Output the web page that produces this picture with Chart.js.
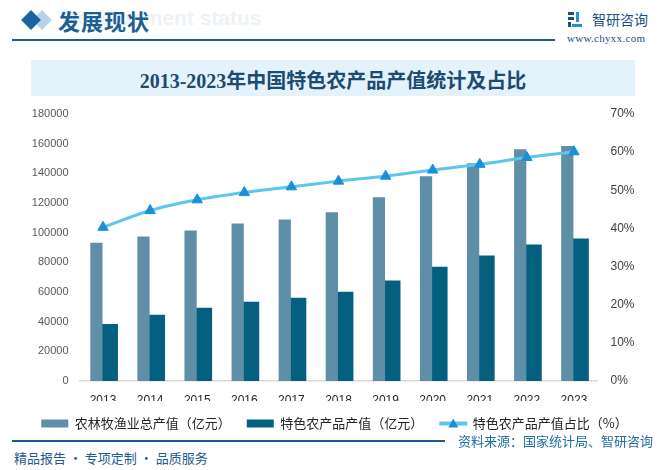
<!DOCTYPE html>
<html>
<head>
<meta charset="utf-8">
<script src="https://cdn.jsdelivr.net/npm/chart.js@4.4.1/dist/chart.umd.min.js"></script>
<style>
  html, body { margin: 0; padding: 0; background: #fff; }
  body { width: 669px; height: 470px; position: relative; overflow: hidden; font-family: "Noto Sans CJK SC", "Noto Sans", sans-serif; }
  .abs { position: absolute; }
  #ghost { left: 62px; top: 6px; font: bold 21px "Liberation Sans", sans-serif; color: #edf2f6; white-space: nowrap; }
  #diamond2 { left: 35px; top: 13px; width: 14px; height: 14px; background: #b9d2e6; transform: rotate(45deg); }
  #diamond1 { left: 24px; top: 13px; width: 14px; height: 14px; background: #1c64a0; transform: rotate(45deg); }
  #head { left: 58px; top: 4px; font-weight: bold; font-size: 22px; color: #1c5f96; letter-spacing: 1px; }
  #headline { left: 12px; top: 39px; width: 543px; height: 2px; background: #1d5c8c; }
  #logoTxt { left: 592px; top: 9px; font-size: 14px; color: #1d4f85; }
  #logoUrl { left: 567px; top: 32px; font: 11px "Liberation Serif", serif; color: #1d4f85; letter-spacing: 0.3px; }
  #titlebox { left: 31px; top: 60px; width: 604px; height: 36px; background: #e4f2fb; }
  #title { left: 31px; top: 63px; width: 604px; height: 36px; line-height: 36px; text-align: center; font-weight: bold; font-size: 20px; color: #1c4a72; font-family: "Liberation Serif", "Noto Sans CJK SC", serif; }
  #chartBox { left: 0; top: 100px; width: 669px; height: 340px; }
  #footline { left: 12px; top: 440px; width: 433px; height: 1.5px; background: #1d5c8c; }
  #source { left: 458px; top: 431px; font-size: 13px; color: #1f6fa0; }
  #slogan { left: 14px; top: 448px; font-size: 13px; color: #1e5b8e; }
</style>
</head>
<body>
<div id="ghost" class="abs">Development status</div>
<div id="diamond2" class="abs"></div>
<div id="diamond1" class="abs"></div>
<div id="head" class="abs">发展现状</div>
<div id="headline" class="abs"></div>
<svg class="abs" style="left:568px;top:12px" width="14" height="15" viewBox="0 0 14 15">
  <rect x="0" y="0" width="6" height="3" fill="#1d4f85"/>
  <rect x="0" y="5" width="6" height="3" fill="#1d4f85"/>
  <rect x="0" y="10" width="3" height="5" fill="#1d4f85"/>
  <rect x="8" y="0" width="3" height="10" fill="#2a8fd0"/>
  <rect x="4" y="12" width="10" height="3" fill="#2a8fd0"/>
</svg>
<div id="logoTxt" class="abs">智研咨询</div>
<div id="logoUrl" class="abs">www.chyxx.com</div>
<div id="titlebox" class="abs"></div>
<div id="title" class="abs">2013-2023年中国特色农产品产值统计及占比</div>
<div id="chartBox" class="abs"><canvas id="myChart" width="669" height="340"></canvas></div>
<div id="footline" class="abs"></div>
<div id="source" class="abs">资料来源：国家统计局、智研咨询</div>
<div id="slogan" class="abs">精品报告 · 专项定制 · 品质服务</div>

<script>
// datos
const years = ['2013', '2014', '2015', '2016', '2017', '2018', '2019', '2020', '2021', '2022', '2023'];
const totalOutput = [93200, 97400, 101500, 106200, 108900, 113700, 123800, 138000, 146800, 156300, 158400];
const featureOutput = [38400, 44700, 49400, 53500, 56200, 60200, 67700, 77100, 84600, 92000, 96100];
const featureShare = [40.3, 44.7, 47.5, 49.4, 50.9, 52.4, 53.7, 55.3, 56.8, 58.6, 60.1];
const leftTicks = [0, 20000, 40000, 60000, 80000, 100000, 120000, 140000, 160000, 180000];
const rightTicks = [0, 10, 20, 30, 40, 50, 60, 70];

const lineColor = '#5cc6ef';
const markColor = '#1a90d6';

// triangulo y linea en la leyenda
const legendMarker = {
  id: 'legendMarker',
  afterDraw(chart) {
    const box = chart.legend.legendHitBoxes[2];
    if (!box) return;
    const ctx = chart.ctx;
    const cy = box.top + box.height / 2;
    ctx.save();
    ctx.strokeStyle = lineColor;
    ctx.lineWidth = 4;
    ctx.beginPath();
    ctx.moveTo(box.left, cy);
    ctx.lineTo(box.left + 28, cy);
    ctx.stroke();
    ctx.fillStyle = markColor;
    ctx.beginPath();
    ctx.moveTo(box.left + 14, cy - 5);
    ctx.lineTo(box.left + 19, cy + 4);
    ctx.lineTo(box.left + 9, cy + 4);
    ctx.closePath();
    ctx.fill();
    ctx.restore();
  }
};

// ancho fijo de los ejes y poco margen arriba
function fitY(w) {
  return function(scale) {
    scale.width = w;
    scale.paddingTop = 7;
    scale.paddingBottom = 7;
  };
}

var ctx = document.getElementById('myChart').getContext('2d');
var myChart = new Chart(ctx, {
  type: 'bar',
  data: {
    labels: years,
    datasets: [{
      label: '农林牧渔业总产值（亿元）',
      data: totalOutput,
      backgroundColor: '#5f8fa6',
      barPercentage: 0.92,
      categoryPercentage: 0.565,
      yAxisID: 'y'
    }, {
      label: '特色农产品产值（亿元）',
      data: featureOutput,
      backgroundColor: '#05607f',
      barPercentage: 1.24,
      categoryPercentage: 0.565,
      yAxisID: 'y'
    }, {
      type: 'line',
      label: '特色农产品产值占比（%）',
      data: featureShare,
      borderColor: lineColor,
      borderWidth: 3,
      tension: 0.3,
      pointStyle: 'triangle',
      pointRadius: 6,
      pointBackgroundColor: markColor,
      pointBorderColor: markColor,
      pointBorderWidth: 1,
      yAxisID: 'y1',
      order: -1
    }]
  },
  options: {
    responsive: false,
    animation: false,
    layout: { padding: { top: 14, left: 0, right: 0, bottom: 0 } },
    plugins: {
      tooltip: { enabled: false },
      legend: {
        display: true,
        position: 'bottom',
        labels: {
          boxWidth: 27,
          boxHeight: 8,
          padding: 16,
          color: '#262626',
          font: { family: '"Noto Sans CJK SC", sans-serif', size: 13 },
          generateLabels(chart) {
            return chart.data.datasets.map((ds, i) => ({
              text: ds.label,
              fillStyle: i === 2 ? 'rgba(0,0,0,0)' : ds.backgroundColor,
              strokeStyle: 'rgba(0,0,0,0)',
              lineWidth: 0,
              datasetIndex: i,
              fontColor: '#262626'
            }));
          }
        }
      }
    },
    scales: {
      x: {
        grid: { display: false },
        border: { display: true, color: '#d9d9d9', width: 1.5 },
        ticks: {
          color: '#262626',
          padding: 4,
          font: { family: '"Liberation Sans", sans-serif', size: 12 }
        },
        afterFit(scale) { scale.height = 20; }
      },
      y: {
        position: 'left',
        min: 0,
        max: 180000,
        afterBuildTicks(scale) { scale.ticks = leftTicks.map(v => ({ value: v })); },
        grid: { display: false, drawTicks: false },
        border: { display: false },
        ticks: {
          color: '#595959',
          padding: 11,
          font: { family: '"Liberation Sans", sans-serif', size: 11 },
          callback: function(v) { return String(v); }
        },
        afterFit: fitY(79.5)
      },
      y1: {
        position: 'right',
        min: 0,
        max: 70,
        afterBuildTicks(scale) { scale.ticks = rightTicks.map(v => ({ value: v })); },
        grid: { display: false, drawTicks: false },
        border: { display: false },
        ticks: {
          color: '#404040',
          padding: 13,
          font: { family: '"Liberation Sans", sans-serif', size: 12 },
          callback: function(v) { return v + '%'; }
        },
        afterFit: fitY(71.5)
      }
    }
  },
  plugins: [legendMarker]
});
</script>
</body>
</html>
